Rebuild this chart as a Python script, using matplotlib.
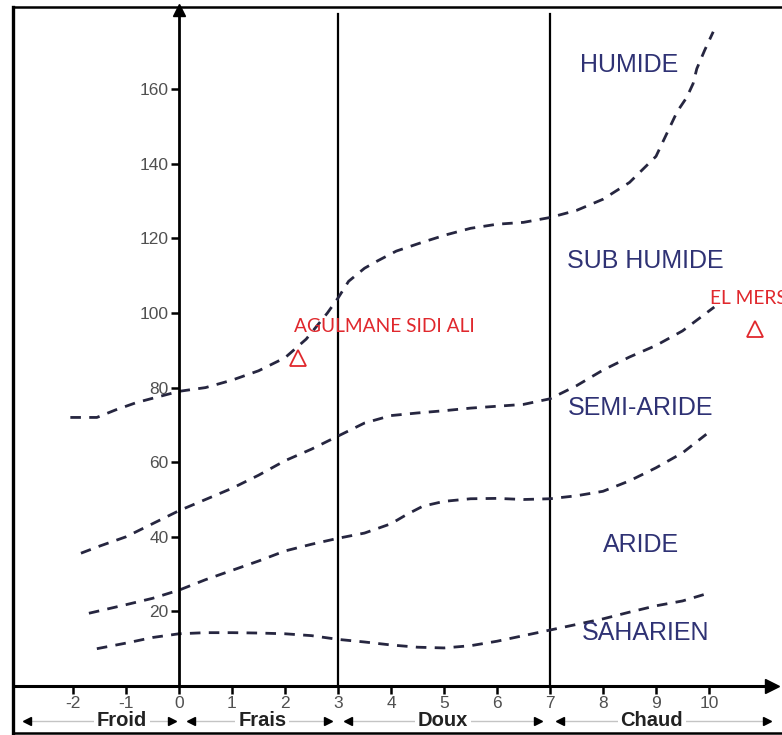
import matplotlib
matplotlib.use("Agg")
import matplotlib.pyplot as plt
from matplotlib.lines import Line2D

plt.rcParams["axes.unicode_minus"] = False
plt.rcParams["font.family"] = ["Liberation Sans", "DejaVu Sans"]

# Emberger climagram: m (°C) on x, Q2 on y
# Boundary curves between bioclimatic zones
x_hum = [-2.05, -1.55, -1.2, -0.8, -0.4, 0, 0.5, 1, 1.5, 2, 2.4, 2.8, 3.0, 3.2, 3.5,
         3.75, 4.1, 4.6, 5.05, 5.5, 6, 6.5, 7, 7.5, 8, 8.5, 9.0, 9.2, 9.4, 9.58,
         9.7, 9.77, 9.92, 10.08]
y_hum = [72, 72, 74, 76, 77.5, 79, 80, 82, 84.5, 88, 93, 100, 104, 108.5, 112,
         114, 116.6, 119, 121, 122.7, 123.8, 124.3, 125.6, 127.5, 130.5, 135, 142, 148, 154, 157.8,
         161.5, 165.5, 170.5, 175.4]

x_sub = [-1.85, -1.5, -1, -0.5, 0, 0.5, 1, 1.5, 2, 2.5, 3, 3.5, 4, 4.5, 5, 5.5,
         6, 6.5, 7, 7.5, 8, 8.5, 9, 9.5, 10.1]
y_sub = [35.6, 37.5, 40, 43.5, 47, 50, 53, 56.5, 60.4, 63.5, 67, 70.5, 72.5, 73.2, 73.8, 74.5,
         75, 75.5, 77, 80.5, 84.7, 88.2, 91.3, 95.2, 101.6]

x_semi = [-1.7, -1, -0.5, 0, 0.5, 1, 1.5, 2, 2.5, 3, 3.5, 4, 4.3, 4.6, 5, 5.5,
          6, 6.5, 7, 7.5, 8, 8.5, 9, 9.5, 9.95]
y_semi = [19.5, 21.8, 23.5, 25.7, 28.5, 31, 33.5, 36.2, 38, 39.6, 41, 43.5, 46, 48.2, 49.5, 50.2,
          50.3, 50, 50.2, 51, 52.2, 55, 58.5, 62.5, 67.5]

x_arid = [-1.55, -1, -0.5, 0, 0.5, 1, 1.5, 2, 2.5, 3, 3.5, 4, 4.5, 5, 5.5, 6,
          6.5, 7, 7.5, 8, 8.5, 9, 9.5, 9.9]
y_arid = [10, 11.5, 13, 14, 14.3, 14.3, 14.2, 14, 13.5, 12.5, 11.8, 11, 10.4, 10.2, 10.8, 12,
          13.5, 15, 16.5, 18, 19.8, 21.5, 22.8, 24.5]

# Zone names
zones = ["HUMIDE", "SUB HUMIDE", "SEMI-ARIDE", "ARIDE", "SAHARIEN"]
zone_x = [8.5, 8.8, 8.7, 8.72, 8.8]
zone_y = [166.6, 114.0, 74.6, 37.7, 14.2]

# Stations
stations = ["AGULMANE SIDI ALI", "EL MERS"]
station_m = [2.25, 10.87]
station_q2 = [88.0, 95.7]
station_label_x = [2.17, 10.02]
station_label_y = [96.3, 104.0]

# Temperature classes of m
classes = ["Froid", "Frais", "Doux", "Chaud"]
class_start = [-2.87, 0.23, 3.19, 7.19]
class_end = [-0.13, 2.81, 6.77, 11.09]
class_mid = [-1.08, 1.57, 4.98, 8.92]

x_ticks = list(range(-2, 11))
y_ticks = list(range(20, 161, 20))
limits_m = [3, 7]

W, H = 782, 735
PX, X0 = 53.0, 179.0
PY, Y0 = 3.73, 686.0

fig = plt.figure(figsize=(W / 100, H / 100), dpi=100)
ax = fig.add_axes([0, 0, 1, 1])
ax.set_xlim(-X0 / PX, (W - X0) / PX)
ax.set_ylim(-(H - Y0) / PY, Y0 / PY)
ax.patch.set_alpha(0)

y_top = (Y0 - 10) / PY
x_right = (772 - X0) / PX

for s in ["top", "right"]:
    ax.spines[s].set_visible(False)
ax.spines["left"].set_position(("data", 0))
ax.spines["bottom"].set_position(("data", 0))
ax.spines["left"].set_bounds(0, y_top)
ax.spines["bottom"].set_bounds((15 - X0) / PX, x_right)
ax.spines["left"].set_linewidth(2.0)
ax.spines["bottom"].set_linewidth(2.2)

ax.set_xticks(x_ticks)
ax.set_xticklabels([str(v) for v in x_ticks])
ax.set_yticks(y_ticks)
ax.set_yticklabels([str(v) for v in y_ticks])
ax.tick_params(axis="both", direction="out", length=6, width=1.8,
               labelsize=12.5, labelcolor="#505050", pad=1.5)

# axis arrowheads
ax.plot([0], [y_top], marker="^", ms=9, color="black", clip_on=False)
ax.plot([x_right], [0], marker=">", ms=10, color="black", clip_on=False)

# class limits
for m in limits_m:
    ax.plot([m, m], [0, (Y0 - 14) / PY], color="black", lw=1.6)

curve_color = "#262640"
for xs, ys in [(x_hum, y_hum), (x_sub, y_sub), (x_semi, y_semi), (x_arid, y_arid)]:
    ln, = ax.plot(xs, ys, color=curve_color, lw=2.0)
    ln.set_dashes((3.8, 3.0))

navy = "#2f3274"
for name, zx, zy in zip(zones, zone_x, zone_y):
    ax.text(zx, zy, name, color=navy, fontsize=18, ha="center", va="center")

red = "#e0282d"
for name, m, q, lx, ly in zip(stations, station_m, station_q2, station_label_x, station_label_y):
    ax.plot([m], [q], marker="^", ms=11, mfc="none", mec=red, mew=1.3, clip_on=False)
    ax.text(lx, ly, name, color=red, fontsize=13.8, ha="left", va="center",
            family=["Lato", "DejaVu Sans"], clip_on=False)

y_cls = -(721 - Y0) / PY
for name, a, b, c in zip(classes, class_start, class_end, class_mid):
    ax.plot([a, b], [y_cls, y_cls], color="#c4c4c4", lw=1.0, clip_on=False)
    ax.plot([a], [y_cls], marker="<", ms=6, color="black", clip_on=False)
    ax.plot([b], [y_cls], marker=">", ms=6, color="black", clip_on=False)
    ax.text(c, y_cls, name, fontsize=14.5, fontweight="bold", color="#222222",
            ha="center", va="center",
            bbox=dict(facecolor="white", edgecolor="none", pad=2))

# outer frame
xl = 13 / W
fig.add_artist(Line2D([xl, xl], [0, 1 - 7 / H], transform=fig.transFigure, lw=2.4, color="black"))
fig.add_artist(Line2D([xl, 1], [1 - 7 / H, 1 - 7 / H], transform=fig.transFigure, lw=1.8, color="black"))
fig.add_artist(Line2D([xl, 1], [2 / H, 2 / H], transform=fig.transFigure, lw=1.8, color="black"))

fig.savefig("out.png", dpi=100, facecolor="white")
